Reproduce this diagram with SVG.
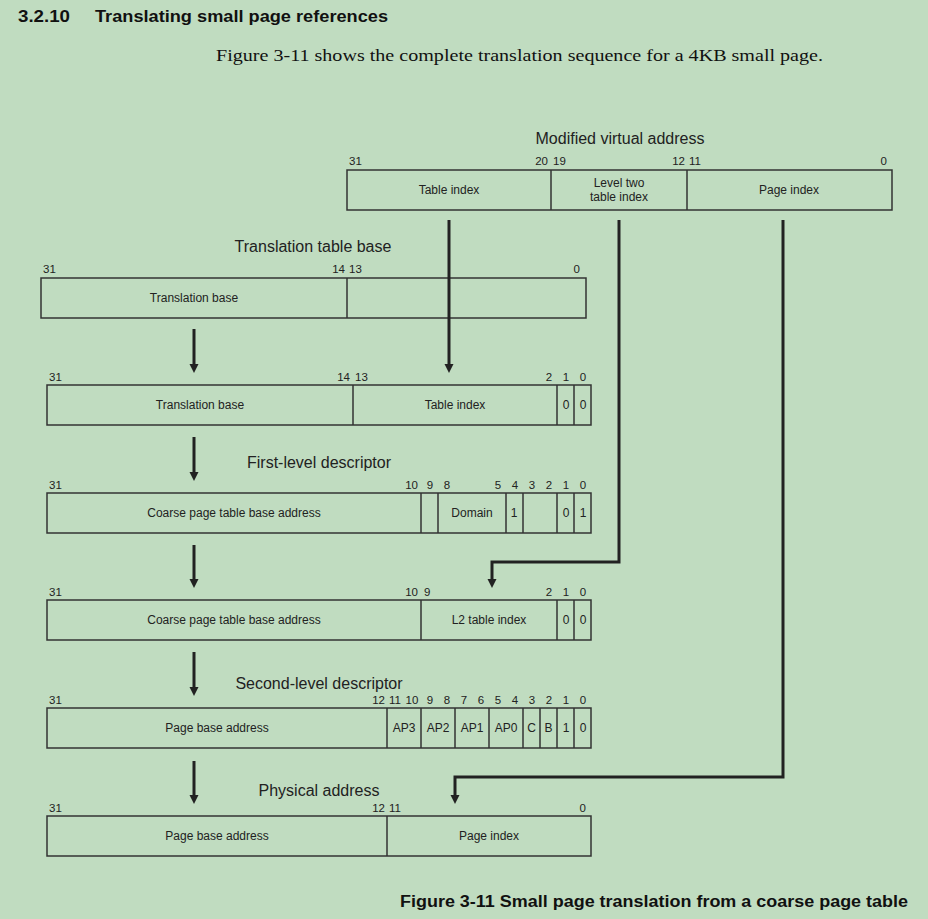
<svg xmlns="http://www.w3.org/2000/svg" width="928" height="919" viewBox="0 0 928 919">
<defs>
<style>
.bg{fill:#c0dcc0}
.box{fill:none;stroke:#333;stroke-width:1.5}
.div{stroke:#333;stroke-width:1.5}
.lbl{font-family:"Liberation Sans",Arial,sans-serif;font-size:12px;fill:#222;text-anchor:middle}
.bit{font-family:"Liberation Sans",Arial,sans-serif;font-size:11.5px;fill:#222}
.bc{text-anchor:middle}
.be{text-anchor:end}
.ttl{font-family:"Liberation Sans",Arial,sans-serif;font-size:16px;fill:#222;text-anchor:middle}
.con{fill:none;stroke:#222;stroke-width:3}
</style>
<marker id="ah" markerUnits="userSpaceOnUse" markerWidth="10" markerHeight="10" refX="1" refY="4.5" orient="auto">
<path d="M0,0 L9,4.5 L0,9 z" fill="#222"/>
</marker>
</defs>
<rect class="bg" x="0" y="0" width="928" height="919"/>
<g id="heading">
<text x="18" y="22" font-family="Liberation Sans Narrow,Liberation Sans,Arial,sans-serif" font-weight="bold" font-size="17" fill="#111" textLength="52" lengthAdjust="spacingAndGlyphs">3.2.10</text>
<text x="95" y="22" font-family="Liberation Sans Narrow,Liberation Sans,Arial,sans-serif" font-weight="bold" font-size="17" fill="#111" textLength="293" lengthAdjust="spacingAndGlyphs">Translating small page references</text>
<text x="216" y="61" font-family="Liberation Serif,Times New Roman,serif" font-size="17" fill="#111" textLength="607" lengthAdjust="spacingAndGlyphs">Figure 3-11 shows the complete translation sequence for a 4KB small page.</text>
</g>

<g id="mva">
<text class="ttl" x="620" y="144">Modified virtual address</text>
<text class="bit" x="349" y="165">31</text>
<text class="bit be" x="548" y="165">20</text>
<text class="bit" x="553" y="165">19</text>
<text class="bit be" x="685" y="165">12</text>
<text class="bit" x="689" y="165">11</text>
<text class="bit be" x="887" y="165">0</text>
<rect class="box" x="347" y="170" width="545" height="40"/>
<line class="div" x1="551" y1="170" x2="551" y2="210"/>
<line class="div" x1="687" y1="170" x2="687" y2="210"/>
<text class="lbl" x="449" y="194">Table index</text>
<text class="lbl" x="619" y="187">Level two</text>
<text class="lbl" x="619" y="201">table index</text>
<text class="lbl" x="789" y="194">Page index</text>
</g>

<g id="ttb">
<text class="ttl" x="313" y="252">Translation table base</text>
<text class="bit" x="43" y="273">31</text>
<text class="bit be" x="345" y="273">14</text>
<text class="bit" x="349" y="273">13</text>
<text class="bit be" x="580" y="273">0</text>
<rect class="box" x="41" y="278" width="545" height="40"/>
<line class="div" x1="347" y1="278" x2="347" y2="318"/>
<text class="lbl" x="194" y="302">Translation base</text>
</g>

<g id="fladdr">
<text class="bit" x="49" y="381">31</text>
<text class="bit be" x="350" y="381">14</text>
<text class="bit" x="355" y="381">13</text>
<text class="bit bc" x="549" y="381">2</text>
<text class="bit bc" x="566" y="381">1</text>
<text class="bit bc" x="583" y="381">0</text>
<rect class="box" x="47" y="385" width="544" height="40"/>
<line class="div" x1="353" y1="385" x2="353" y2="425"/>
<line class="div" x1="557" y1="385" x2="557" y2="425"/>
<line class="div" x1="574" y1="385" x2="574" y2="425"/>
<text class="lbl" x="200" y="409">Translation base</text>
<text class="lbl" x="455" y="409">Table index</text>
<text class="lbl" x="566" y="409">0</text>
<text class="lbl" x="583" y="409">0</text>
</g>

<g id="fld">
<text class="ttl" x="319" y="468">First-level descriptor</text>
<text class="bit" x="49" y="489">31</text>
<text class="bit be" x="418" y="489">10</text>
<text class="bit bc" x="430" y="489">9</text>
<text class="bit bc" x="447" y="489">8</text>
<text class="bit bc" x="498" y="489">5</text>
<text class="bit bc" x="515" y="489">4</text>
<text class="bit bc" x="532" y="489">3</text>
<text class="bit bc" x="549" y="489">2</text>
<text class="bit bc" x="566" y="489">1</text>
<text class="bit bc" x="583" y="489">0</text>
<rect class="box" x="47" y="493" width="544" height="40"/>
<line class="div" x1="421" y1="493" x2="421" y2="533"/>
<line class="div" x1="438" y1="493" x2="438" y2="533"/>
<line class="div" x1="506" y1="493" x2="506" y2="533"/>
<line class="div" x1="523" y1="493" x2="523" y2="533"/>
<line class="div" x1="557" y1="493" x2="557" y2="533"/>
<line class="div" x1="574" y1="493" x2="574" y2="533"/>
<text class="lbl" x="234" y="517">Coarse page table base address</text>
<text class="lbl" x="472" y="517">Domain</text>
<text class="lbl" x="514" y="517">1</text>
<text class="lbl" x="566" y="517">0</text>
<text class="lbl" x="583" y="517">1</text>
</g>

<g id="sladdr">
<text class="bit" x="49" y="596">31</text>
<text class="bit be" x="418" y="596">10</text>
<text class="bit" x="424" y="596">9</text>
<text class="bit bc" x="549" y="596">2</text>
<text class="bit bc" x="566" y="596">1</text>
<text class="bit bc" x="583" y="596">0</text>
<rect class="box" x="47" y="600" width="544" height="40"/>
<line class="div" x1="421" y1="600" x2="421" y2="640"/>
<line class="div" x1="557" y1="600" x2="557" y2="640"/>
<line class="div" x1="574" y1="600" x2="574" y2="640"/>
<text class="lbl" x="234" y="624">Coarse page table base address</text>
<text class="lbl" x="489" y="624">L2 table index</text>
<text class="lbl" x="566" y="624">0</text>
<text class="lbl" x="583" y="624">0</text>
</g>

<g id="sld">
<text class="ttl" x="319" y="689">Second-level descriptor</text>
<text class="bit" x="49" y="704">31</text>
<text class="bit be" x="385" y="704">12</text>
<text class="bit bc" x="395" y="704">11</text>
<text class="bit bc" x="412" y="704">10</text>
<text class="bit bc" x="430" y="704">9</text>
<text class="bit bc" x="447" y="704">8</text>
<text class="bit bc" x="464" y="704">7</text>
<text class="bit bc" x="481" y="704">6</text>
<text class="bit bc" x="498" y="704">5</text>
<text class="bit bc" x="515" y="704">4</text>
<text class="bit bc" x="532" y="704">3</text>
<text class="bit bc" x="549" y="704">2</text>
<text class="bit bc" x="566" y="704">1</text>
<text class="bit bc" x="583" y="704">0</text>
<rect class="box" x="47" y="708" width="544" height="40"/>
<line class="div" x1="387" y1="708" x2="387" y2="748"/>
<line class="div" x1="421" y1="708" x2="421" y2="748"/>
<line class="div" x1="455" y1="708" x2="455" y2="748"/>
<line class="div" x1="489" y1="708" x2="489" y2="748"/>
<line class="div" x1="523" y1="708" x2="523" y2="748"/>
<line class="div" x1="540" y1="708" x2="540" y2="748"/>
<line class="div" x1="557" y1="708" x2="557" y2="748"/>
<line class="div" x1="574" y1="708" x2="574" y2="748"/>
<text class="lbl" x="217" y="732">Page base address</text>
<text class="lbl" x="404" y="732">AP3</text>
<text class="lbl" x="438" y="732">AP2</text>
<text class="lbl" x="472" y="732">AP1</text>
<text class="lbl" x="506" y="732">AP0</text>
<text class="lbl" x="531.5" y="732">C</text>
<text class="lbl" x="548.5" y="732">B</text>
<text class="lbl" x="566" y="732">1</text>
<text class="lbl" x="583" y="732">0</text>
</g>

<g id="pa">
<text class="ttl" x="319" y="796">Physical address</text>
<text class="bit" x="49" y="812">31</text>
<text class="bit be" x="385" y="812">12</text>
<text class="bit" x="389" y="812">11</text>
<text class="bit be" x="586" y="812">0</text>
<rect class="box" x="47" y="816" width="544" height="40"/>
<line class="div" x1="387" y1="816" x2="387" y2="856"/>
<text class="lbl" x="217" y="840">Page base address</text>
<text class="lbl" x="489" y="840">Page index</text>
</g>

<g id="connectors">
<path class="con" marker-end="url(#ah)" d="M194,329 L194,365"/>
<path class="con" marker-end="url(#ah)" d="M194,437 L194,473"/>
<path class="con" marker-end="url(#ah)" d="M194,545 L194,580"/>
<path class="con" marker-end="url(#ah)" d="M194,652 L194,688"/>
<path class="con" marker-end="url(#ah)" d="M194,761 L194,796"/>
<path class="con" marker-end="url(#ah)" d="M449,220 L449,365"/>
<path class="con" marker-end="url(#ah)" d="M619,220 L619,562 L492,562 L492,580"/>
<path class="con" marker-end="url(#ah)" d="M783,220 L783,777 L455,777 L455,796"/>
</g>

<g id="caption">
<text x="400" y="907" font-family="Liberation Sans,Arial,sans-serif" font-weight="bold" font-size="16" fill="#111" textLength="508" lengthAdjust="spacingAndGlyphs">Figure 3-11 Small page translation from a coarse page table</text>
</g>
</svg>
